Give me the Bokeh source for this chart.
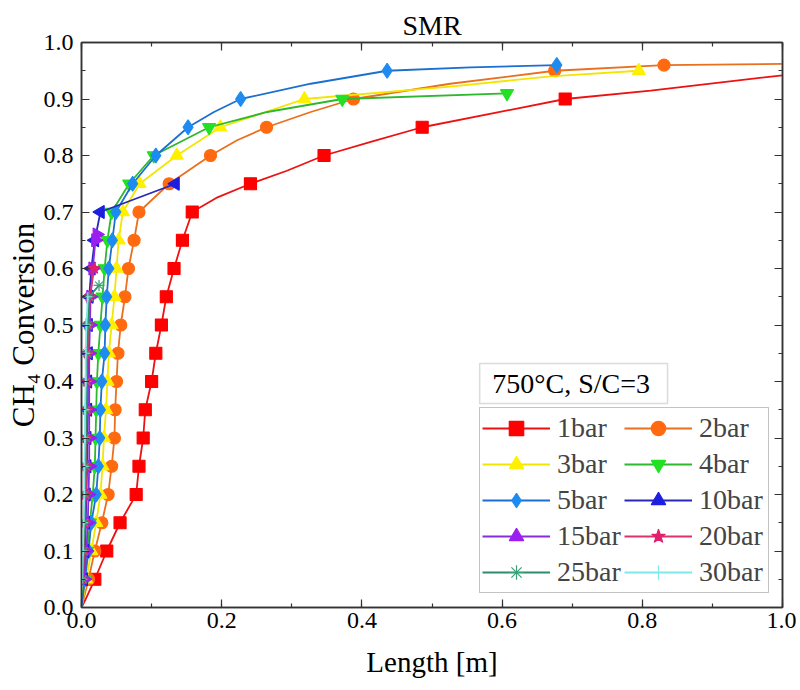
from bokeh.plotting import figure
from bokeh.models import (Legend, LegendItem, LinearAxis, SingleIntervalTicker,
                          BoxAnnotation, Label, Range1d, PrintfTickFormatter)
from bokeh.embed import file_html
from bokeh.resources import INLINE
import math

# ---------------- data ----------------
conv_low = [0.05, 0.10, 0.15, 0.20, 0.25, 0.30, 0.35, 0.40, 0.45, 0.50, 0.55, 0.60, 0.65, 0.70]

# marker points
conv_1bar = conv_low + [0.75, 0.80, 0.85, 0.90]
len_1bar = [0.019, 0.036, 0.055, 0.078, 0.082, 0.088, 0.091, 0.100, 0.106, 0.114, 0.121, 0.132, 0.144, 0.158,
            0.241, 0.346, 0.486, 0.690]
conv_2bar = conv_low + [0.75, 0.80, 0.85, 0.90, 0.95, 0.96]
len_2bar = [0.010, 0.019, 0.029, 0.038, 0.043, 0.047, 0.048, 0.050, 0.052, 0.056, 0.062, 0.067, 0.075, 0.082,
            0.125, 0.184, 0.264, 0.388, 0.675, 0.831]
conv_3bar = conv_low + [0.75, 0.80, 0.85, 0.90, 0.95]
len_3bar = [0.007, 0.014, 0.021, 0.027, 0.030, 0.032, 0.035, 0.037, 0.039, 0.043, 0.047, 0.050, 0.053, 0.059,
            0.083, 0.136, 0.198, 0.318, 0.795]
conv_4bar = conv_low + [0.75, 0.80, 0.85, 0.90, 0.91]
len_4bar = [0.004, 0.008, 0.012, 0.016, 0.019, 0.020, 0.021, 0.022, 0.024, 0.027, 0.030, 0.033, 0.037, 0.043,
            0.068, 0.103, 0.182, 0.372, 0.607]
conv_5bar = conv_low + [0.75, 0.80, 0.85, 0.90, 0.95, 0.96]
len_5bar = [0.005, 0.010, 0.014, 0.021, 0.024, 0.026, 0.027, 0.029, 0.033, 0.034, 0.036, 0.039, 0.044, 0.049,
            0.073, 0.106, 0.152, 0.227, 0.436, 0.678]
conv_10bar = conv_low + [0.75]
len_10bar = [0.003, 0.005, 0.006, 0.007, 0.008, 0.008, 0.009, 0.009, 0.010, 0.010, 0.011, 0.014, 0.019, 0.027,
             0.134]
conv_15bar = conv_low[:13] + [0.66]
len_15bar = [0.004, 0.007, 0.009, 0.010, 0.011, 0.011, 0.011, 0.011, 0.011, 0.012, 0.013, 0.016, 0.020, 0.022]
conv_20bar = conv_low[:12]
len_20bar = [0.002, 0.004, 0.005, 0.006, 0.007, 0.007, 0.008, 0.008, 0.009, 0.010, 0.012, 0.018]
conv_25bar = conv_low[:11] + [0.57]
len_25bar = [0.002, 0.003, 0.004, 0.005, 0.006, 0.006, 0.007, 0.007, 0.008, 0.009, 0.011, 0.025]
conv_30bar = conv_low[:11]
len_30bar = [0.001, 0.002, 0.003, 0.004, 0.004, 0.005, 0.005, 0.006, 0.006, 0.007, 0.009]

# extra points of the fitted curves (between / beyond the markers)
curve_len_1bar = [0.0, 0.006, 0.194, 0.293, 0.415, 0.588, 0.812, 1.000]
curve_conv_1bar = [0.0, 0.015, 0.726, 0.773, 0.825, 0.875, 0.915, 0.942]
curve_len_2bar = [0.0, 0.222, 0.327, 0.526, 1.000]
curve_conv_2bar = [0.0, 0.827, 0.877, 0.927, 0.962]
curve_len_3bar = [0.0, 0.526, 0.669]
curve_conv_3bar = [0.0, 0.922, 0.940]
curve_len_4bar = [0.0, 0.265]
curve_conv_4bar = [0.0, 0.877]
curve_len_5bar = [0.0, 0.189, 0.327, 0.555]
curve_conv_5bar = [0.0, 0.877, 0.927, 0.956]

labels = ["1bar", "2bar", "3bar", "4bar", "5bar", "10bar", "15bar", "20bar", "25bar", "30bar"]

FONT = "Liberation Serif"

p = figure(frame_width=701, frame_height=565, min_border_left=81, min_border_right=14,
           min_border_top=42, min_border_bottom=80,
           x_range=Range1d(0, 1.0), y_range=Range1d(0, 1.0),
           output_backend="svg", toolbar_location=None, title="SMR")
p.title.align = "center"
p.title.text_font = FONT
p.title.text_font_size = "28px"
p.title.text_font_style = "normal"
p.title.text_color = "black"
p.title.standoff = 4
p.xgrid.visible = False
p.ygrid.visible = False
p.outline_line_color = "#333333"
p.outline_line_width = 1.5
p.background_fill_color = "white"
p.border_fill_color = "white"

xaxis = p.below[0]
yaxis = p.left[0]
xaxis.ticker = SingleIntervalTicker(interval=0.2, num_minor_ticks=2)
yaxis.ticker = SingleIntervalTicker(interval=0.1, num_minor_ticks=2)
xaxis.formatter = PrintfTickFormatter(format="%.1f")
yaxis.formatter = PrintfTickFormatter(format="%.1f")
xaxis.axis_label = "Length [m]"
yaxis.axis_label = "CH\u2084 Conversion"


def style_axis(ax, labels_on=True):
    ax.axis_line_color = "#333333"
    ax.axis_line_width = 1.5
    ax.major_tick_in = 8
    ax.major_tick_out = 0
    ax.minor_tick_in = 4
    ax.minor_tick_out = 0
    ax.major_tick_line_color = "#333333"
    ax.minor_tick_line_color = "#333333"
    ax.major_tick_line_width = 1.2
    ax.minor_tick_line_width = 1.2
    if labels_on:
        ax.major_label_text_font = FONT
        ax.major_label_text_font_size = "24px"
        ax.major_label_text_color = "black"
        ax.axis_label_text_font = FONT
        ax.axis_label_text_font_style = "normal"
        ax.axis_label_text_color = "black"
    else:
        ax.major_label_text_color = None
        ax.major_label_text_font_size = "1px"
        ax.major_label_standoff = 0


style_axis(xaxis)
style_axis(yaxis)
xaxis.axis_label_text_font_size = "29px"
yaxis.axis_label_text_font_size = "31px"
xaxis.major_label_standoff = 5
xaxis.axis_label_standoff = 15
yaxis.major_label_standoff = 8
yaxis.axis_label_standoff = 0

ax_top = LinearAxis(ticker=SingleIntervalTicker(interval=0.2, num_minor_ticks=2))
ax_right = LinearAxis(ticker=SingleIntervalTicker(interval=0.1, num_minor_ticks=2))
style_axis(ax_top, False)
style_axis(ax_right, False)
p.add_layout(ax_top, "above")
p.add_layout(ax_right, "right")

series = [
    (len_1bar, conv_1bar, curve_len_1bar, curve_conv_1bar, "#EE1111", "#FF0000", "square", 12, 0.0),
    (len_2bar, conv_2bar, curve_len_2bar, curve_conv_2bar, "#E8701E", "#FF6A10", "circle", 12, 0.0),
    (len_3bar, conv_3bar, curve_len_3bar, curve_conv_3bar, "#F2E600", "#FFF000", "triangle", 13, 0.0),
    (len_4bar, conv_4bar, curve_len_4bar, curve_conv_4bar, "#2EB82E", "#22E022", "inverted_triangle", 13, 0.0),
    (len_5bar, conv_5bar, curve_len_5bar, curve_conv_5bar, "#1C6FD0", "#1E8BF0", "diamond", 15, 0.0),
    (len_10bar, conv_10bar, [], [], "#2828B8", "#1E1EE0", "triangle", 13, math.pi / 2),
    (len_15bar, conv_15bar, [], [], "#8A2BE2", "#9B1EF0", "triangle", 13, -math.pi / 2),
    (len_20bar, conv_20bar, [], [], "#E0306A", "#E0206E", "star", 12, 0.0),
    (len_25bar, conv_25bar, [], [], "#2E8B6B", "#3CA07A", "asterisk", 11, 0.0),
    (len_30bar, conv_30bar, [], [], "#7FE8E8", "#7FE8E8", "cross", 9, 0.0),
]

items = {}
for (lx, ly, cx, cy, lc, mc, mk, ms, ang), lab in zip(series, labels):
    path = sorted(zip(list(lx) + list(cx), list(ly) + list(cy)), key=lambda t: (t[1], t[0]))
    r_line = p.line([t[0] for t in path], [t[1] for t in path], line_color=lc, line_width=1.8)
    r_pts = p.scatter(lx, ly, marker=mk, size=ms, angle=ang, fill_color=mc, line_color=mc,
                      line_width=1.2)
    items[lab] = LegendItem(label=lab, renderers=[r_line, r_pts])

# legend is filled column by column; reorder so that it reads row by row
order = labels[0::2] + labels[1::2]
legend = Legend(items=[items[k] for k in order], ncols=2, location=(398, 14),
                label_text_font=FONT, label_text_font_size="28px",
                glyph_width=68, glyph_height=36, label_height=36, label_width=67,
                label_standoff=7, spacing=0, padding=2, margin=0,
                border_line_color="#888888", border_line_width=1.5,
                background_fill_color="white", background_fill_alpha=1.0)
p.add_layout(legend, "center")

# caption box "750°C, S/C=3"
box = BoxAnnotation(left=0.568, right=0.836, bottom=0.361, top=0.432,
                    fill_color="white", fill_alpha=1.0, line_color="#888888", line_width=1.5)
p.add_layout(box)
cap = Label(x=0.586, y=0.3965, text="750\u00b0C, S/C=3", text_font=FONT, text_font_size="28px",
            text_baseline="middle", text_align="left", text_color="black")
p.add_layout(cap)

open("out.html", "w").write(file_html(p, INLINE))
